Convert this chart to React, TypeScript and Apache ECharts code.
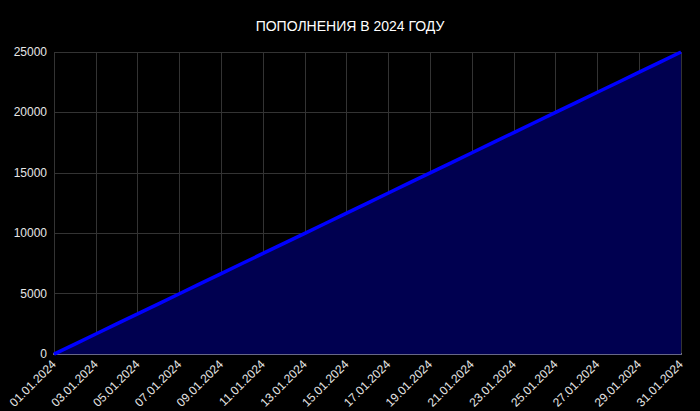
import React, { useEffect, useRef } from "react";
import * as echarts from "echarts";

const categories: string[] = [
  "01.01.2024", "02.01.2024", "03.01.2024", "04.01.2024", "05.01.2024", "06.01.2024",
  "07.01.2024", "08.01.2024", "09.01.2024", "10.01.2024", "11.01.2024", "12.01.2024",
  "13.01.2024", "14.01.2024", "15.01.2024", "16.01.2024", "17.01.2024", "18.01.2024",
  "19.01.2024", "20.01.2024", "21.01.2024", "22.01.2024", "23.01.2024", "24.01.2024",
  "25.01.2024", "26.01.2024", "27.01.2024", "28.01.2024", "29.01.2024", "30.01.2024",
  "31.01.2024",
];

const values: number[] = [
  0, 833, 1667, 2500, 3333, 4167, 5000, 5833, 6667, 7500, 8333, 9167, 10000, 10833,
  11667, 12500, 13333, 14167, 15000, 15833, 16667, 17500, 18333, 19167, 20000, 20833,
  21667, 22500, 23333, 24167, 25000,
];

const title = "ПОПОЛНЕНИЯ В 2024 ГОДУ";

export default function App() {
  const ref = useRef<HTMLDivElement>(null);
  useEffect(() => {
    document.body.style.margin = "0";
    document.body.style.background = "#000";
    const chart = echarts.init(ref.current!, null, { renderer: "svg" });
    chart.setOption({
      animation: false,
      backgroundColor: "#000000",
      textStyle: { fontFamily: "Liberation Sans, Arial, sans-serif" },
      title: {
        text: title,
        left: "center",
        top: 14,
        textStyle: { color: "#ffffff", fontSize: 14, fontWeight: "normal", fontFamily: "Liberation Sans, Arial, sans-serif" },
      },
      grid: { left: 54, right: 19, top: 52, bottom: 56, containLabel: false },
      xAxis: {
        type: "category",
        data: categories,
        boundaryGap: false,
        axisLine: { lineStyle: { color: "#8a8a9a", width: 2 } },
        axisTick: { show: false },
        axisLabel: { color: "#e6e6e6", fontSize: 12, rotate: 45, interval: 1, margin: 8 },
        splitLine: { show: true, interval: 1, lineStyle: { color: "#333333", width: 1 } },
      },
      yAxis: {
        type: "value",
        min: 0,
        max: 25000,
        interval: 5000,
        axisLine: { show: false },
        axisTick: { show: false },
        axisLabel: { color: "#e6e6e6", fontSize: 12, margin: 7, formatter: (v: number) => String(v) },
        splitLine: { lineStyle: { color: "#333333", width: 1 } },
      },
      series: [
        {
          type: "line",
          data: values,
          showSymbol: false,
          symbol: "none",
          lineStyle: { color: "#0000ff", width: 3.5 },
          areaStyle: { color: "#000050", opacity: 1 },
        },
      ],
    });
    return () => chart.dispose();
  }, []);
  return <div ref={ref} style={{ width: 700, height: 411 }} />;
}
